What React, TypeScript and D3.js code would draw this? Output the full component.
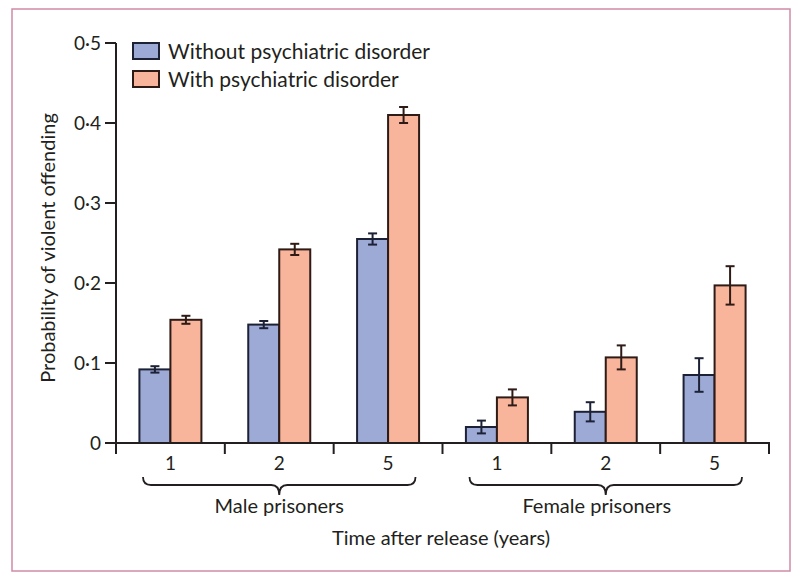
import React from "react";
import * as d3 from "d3";

const groups = ["Male prisoners", "Female prisoners"];
const years = ["1", "2", "5"];
const seriesNames = ["Without psychiatric disorder", "With psychiatric disorder"];
const withoutVals = [0.092, 0.148, 0.255, 0.02, 0.039, 0.085];
const withVals = [0.154, 0.242, 0.41, 0.057, 0.107, 0.197];
const withoutErr = [0.004, 0.0045, 0.007, 0.008, 0.012, 0.021];
const withErr = [0.005, 0.007, 0.01, 0.01, 0.015, 0.024];
const yTicks = [0, 0.1, 0.2, 0.3, 0.4, 0.5];
const yTickLabels = ["0", "0·1", "0·2", "0·3", "0·4", "0·5"];
const yTitle = "Probability of violent offending";
const xTitle = "Time after release (years)";

const W = 800;
const H = 579;
const FONT = "Lato, 'Open Sans', sans-serif";
const AX = "#231f20";
const fills = ["#9eaad6", "#f9b59c"];
const strokes = ["#1c2136", "#2e1b16"];

export default function App() {
  const cats = groups.flatMap((g) => years.map((y) => `${g}|${y}`));
  const x = d3.scaleBand<string>().domain(cats).range([116, 769]).padding(0);
  const inner = d3.scaleBand<string>().domain(seriesNames).range([-31, 31]).padding(0);
  const y = d3.scaleLinear().domain([0, 0.5]).range([443, 43]);
  const gx = d3.scaleBand<string>().domain(groups).range([116, 769]);

  const vals = [withoutVals, withVals];
  const errs = [withoutErr, withErr];

  const braceInset = 27;
  const bracePath = (x1: number, x2: number, y0: number) => {
    const mid = (x1 + x2) / 2;
    const ym = y0 + 8;
    const yt = y0 + 18;
    const r = 8;
    return [
      `M${x1},${y0}`,
      `Q${x1},${ym} ${x1 + r},${ym}`,
      `L${mid - r},${ym}`,
      `Q${mid},${ym} ${mid},${yt}`,
      `Q${mid},${ym} ${mid + r},${ym}`,
      `L${x2 - r},${ym}`,
      `Q${x2},${ym} ${x2},${y0}`,
    ].join(" ");
  };

  const boundaries = [...cats.map((c) => x(c)!), 769];

  return (
    <svg
      width={W}
      height={H}
      style={{ position: "absolute", left: 0, top: 0, background: "#fff" }}
      fontFamily={FONT}
    >
      <rect x={12} y={9} width={778} height={562} fill="none" stroke="#cf8ba8" strokeWidth={1.5} />

      {/* bars */}
      {cats.map((c, i) =>
        seriesNames.map((s, k) => {
          const cx = x(c)! + x.bandwidth() / 2;
          const bx = cx + inner(s)!;
          const v = vals[k][i];
          const e = errs[k][i];
          const ex = bx + inner.bandwidth() / 2;
          return (
            <g key={c + s}>
              <rect
                x={bx}
                y={y(v)}
                width={inner.bandwidth()}
                height={y(0) - y(v)}
                fill={fills[k]}
                stroke={strokes[k]}
                strokeWidth={2}
              />
              <g stroke={strokes[k]} strokeWidth={2}>
                <line x1={ex} x2={ex} y1={y(v - e)} y2={y(v + e)} />
                <line x1={ex - 4.5} x2={ex + 4.5} y1={y(v - e)} y2={y(v - e)} />
                <line x1={ex - 4.5} x2={ex + 4.5} y1={y(v + e)} y2={y(v + e)} />
              </g>
            </g>
          );
        })
      )}

      {/* y axis */}
      <line x1={116} x2={116} y1={y(0.5)} y2={y(0)} stroke={AX} strokeWidth={2} />
      {yTicks.map((t, i) => (
        <g key={t}>
          <line x1={105} x2={116} y1={y(t)} y2={y(t)} stroke={AX} strokeWidth={2} />
          <text x={101} y={y(t)} dy="0.35em" textAnchor="end" fontSize={19} fill={AX}>
            {yTickLabels[i]}
          </text>
        </g>
      ))}
      <text
        transform={`translate(55,${248}) rotate(-90)`}
        textAnchor="middle"
        fontSize={20}
        fill={AX}
      >
        {yTitle}
      </text>

      {/* x axis */}
      <line x1={115} x2={770} y1={y(0)} y2={y(0)} stroke={AX} strokeWidth={2} />
      {boundaries.map((b, i) => (
        <line key={i} x1={b} x2={b} y1={y(0)} y2={y(0) + 11} stroke={AX} strokeWidth={2} />
      ))}
      {cats.map((c, i) => (
        <text
          key={c}
          x={x(c)! + x.bandwidth() / 2}
          y={470}
          textAnchor="middle"
          fontSize={19}
          fill={AX}
        >
          {years[i % years.length]}
        </text>
      ))}
      {groups.map((g, i) => {
        const x1 = gx(g)! + braceInset;
        const x2 = gx(g)! + gx.bandwidth() - braceInset;
        return (
          <g key={g}>
            <path d={bracePath(x1, x2, 477)} fill="none" stroke={AX} strokeWidth={1.8} />
            <text
              x={(x1 + x2) / 2}
              dx={i === 1 ? -9 : 0}
              y={513}
              textAnchor="middle"
              fontSize={20}
              fill={AX}
            >
              {g}
            </text>
          </g>
        );
      })}
      <text x={441} y={545} textAnchor="middle" fontSize={20} fill={AX}>
        {xTitle}
      </text>

      {/* legend */}
      {seriesNames.map((s, k) => (
        <g key={s} transform={`translate(133,${43 + k * 28})`}>
          <rect x={0} y={0} width={26} height={16} fill={fills[k]} stroke={strokes[k]} strokeWidth={2} />
          <text x={35} y={16} fontSize={21} fill={AX}>
            {s}
          </text>
        </g>
      ))}
    </svg>
  );
}
